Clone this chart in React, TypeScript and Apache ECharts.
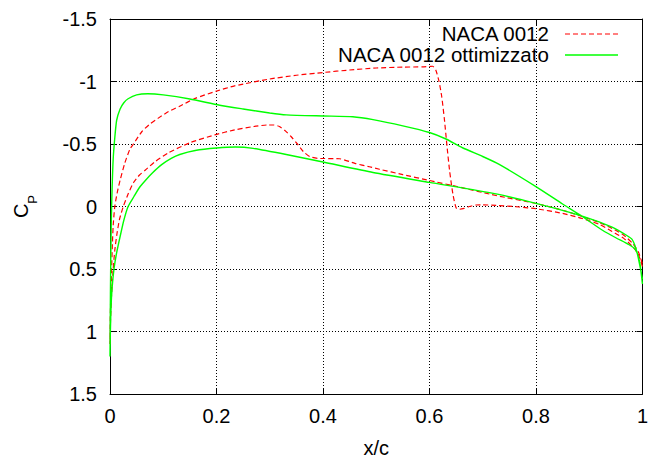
import { useEffect, useRef } from 'react';
import * as echarts from 'echarts';

// NACA 0012 — suction side (with the shock near x/c = 0.62)
const nacaUpperX = [0, 0.0005, 0.0015, 0.003, 0.0045, 0.006, 0.009, 0.014, 0.019, 0.028, 0.0375, 0.044, 0.06, 0.075, 0.09, 0.11, 0.13, 0.16, 0.2, 0.234, 0.3, 0.35, 0.4, 0.45, 0.5, 0.55, 0.587, 0.6, 0.606, 0.612, 0.618, 0.623, 0.628, 0.633, 0.638, 0.644, 0.65, 0.656, 0.665, 0.675, 0.687, 0.7, 0.725, 0.769, 0.8, 0.85, 0.887, 0.92, 0.943, 0.965, 0.981, 0.992, 1.0];
const nacaUpperCp = [1.1, 0.9, 0.7, 0.5, 0.3, 0.15, 0, -0.12, -0.21, -0.35, -0.46, -0.5, -0.6, -0.66, -0.705, -0.76, -0.8, -0.865, -0.923, -0.965, -1.02, -1.05, -1.072, -1.092, -1.108, -1.115, -1.117, -1.12, -1.122, -1.09, -1.0, -0.88, -0.7, -0.48, -0.28, -0.1, 0.01, 0.022, 0.015, 0.0, -0.012, -0.013, -0.009, 0.004, 0.018, 0.055, 0.096, 0.145, 0.2, 0.255, 0.319, 0.38, 0.48];

// NACA 0012 — second surface
const nacaLowerX = [0, 0.001, 0.003, 0.006, 0.009, 0.013, 0.018, 0.025, 0.034, 0.044, 0.055, 0.066, 0.085, 0.11, 0.15, 0.197, 0.234, 0.27, 0.295, 0.308, 0.318, 0.328, 0.34, 0.352, 0.363, 0.375, 0.39, 0.4, 0.431, 0.46, 0.487, 0.506, 0.55, 0.6, 0.644, 0.725, 0.8, 0.85, 0.887, 0.92, 0.943, 0.965, 0.981, 0.992, 1.0];
const nacaLowerCp = [1.1, 0.9, 0.7, 0.5, 0.35, 0.22, 0.1, 0, -0.1, -0.19, -0.25, -0.29, -0.36, -0.43, -0.51, -0.573, -0.613, -0.64, -0.652, -0.652, -0.64, -0.61, -0.56, -0.5, -0.44, -0.4, -0.385, -0.384, -0.382, -0.345, -0.318, -0.298, -0.255, -0.208, -0.167, -0.088, -0.024, 0.03, 0.08, 0.13, 0.175, 0.23, 0.293, 0.36, 0.46];

// Optimised profile — suction side
const optUpperX = [0, 0.0003, 0.0008, 0.0015, 0.0025, 0.004, 0.006, 0.009, 0.0125, 0.019, 0.026, 0.034, 0.05, 0.071, 0.1, 0.15, 0.206, 0.25, 0.3, 0.331, 0.4, 0.456, 0.494, 0.55, 0.6, 0.631, 0.662, 0.7, 0.731, 0.8, 0.85, 0.887, 0.925, 0.95, 0.975, 0.987, 0.995, 1.0];
const optUpperCp = [1.2, 1.0, 0.7, 0.4, 0.1, -0.15, -0.38, -0.55, -0.69, -0.78, -0.83, -0.862, -0.893, -0.902, -0.893, -0.86, -0.81, -0.78, -0.748, -0.733, -0.724, -0.718, -0.695, -0.645, -0.592, -0.54, -0.47, -0.4, -0.337, -0.159, -0.02, 0.08, 0.19, 0.25, 0.306, 0.345, 0.45, 0.62];

// Optimised profile — second surface
const optLowerX = [0, 0.0007, 0.002, 0.004, 0.0075, 0.012, 0.019, 0.026, 0.034, 0.045, 0.055, 0.066, 0.08, 0.097, 0.115, 0.131, 0.16, 0.2, 0.236, 0.269, 0.331, 0.4, 0.494, 0.6, 0.725, 0.8, 0.887, 0.943, 0.97, 0.981, 0.99, 1.0];
const optLowerCp = [1.2, 1.0, 0.8, 0.65, 0.5, 0.38, 0.24, 0.11, 0.0, -0.08, -0.15, -0.206, -0.27, -0.335, -0.385, -0.416, -0.448, -0.468, -0.476, -0.465, -0.416, -0.356, -0.272, -0.193, -0.101, -0.025, 0.077, 0.165, 0.23, 0.266, 0.37, 0.58];

const seriesNames = ['NACA 0012', 'NACA 0012 ottimizzato'];
const seriesColors = ['#ff0000', '#00ff00'];

// Closed Cp loop: first surface from trailing edge to leading edge, then back along the second one
function loop(ux: number[], uy: number[], lx: number[], ly: number[]) {
  const a = ux.map((x, i) => [x, uy[i]]).reverse();
  const b = lx.map((x, i) => [x, ly[i]]).slice(1);
  return [...a, ...b];
}

const FONT = 'Liberation Sans, Arial, Helvetica, sans-serif';
const DASH = [5, 3];

export default function App() {
  const ref = useRef<HTMLDivElement>(null);

  useEffect(() => {
    const chart = echarts.init(ref.current!, null, { renderer: 'svg' });
    const axisLine = { show: true, onZero: false, lineStyle: { color: '#000', width: 1 } };
    const tick = { show: true, inside: true, length: 6, lineStyle: { color: '#000', width: 1 } };
    const grid = { show: true, lineStyle: { color: '#000', width: 1, type: [1, 2] } };
    const label = { color: '#000', fontSize: 20, fontFamily: FONT };

    // Key in the top-right corner: right-aligned text followed by a line sample
    const key = seriesNames.flatMap((name, i) => {
      const y = 34 + i * 21;
      return [
        {
          type: 'text',
          right: 101,
          top: y - 11,
          style: { text: name, fill: '#000', fontSize: 20.5, fontFamily: FONT, textVerticalAlign: 'top' },
        },
        {
          type: 'line',
          shape: { x1: 565, y1: y, x2: 618, y2: y },
          style: { stroke: seriesColors[i], lineWidth: i === 0 ? 1.2 : 1.4, lineDash: i === 0 ? DASH : null },
        },
      ];
    });

    chart.setOption({
      animation: false,
      backgroundColor: '#fff',
      textStyle: { fontFamily: FONT },
      grid: { left: 110, right: 7, top: 19, bottom: 64, containLabel: false },
      graphic: key,
      xAxis: [
        {
          type: 'value', min: 0, max: 1, interval: 0.2, position: 'bottom',
          axisLine, axisTick: tick, splitLine: grid,
          axisLabel: { ...label, margin: 12 },
          name: 'x/c', nameLocation: 'middle', nameGap: 44,
          nameTextStyle: { ...label },
        },
        {
          type: 'value', min: 0, max: 1, interval: 0.2, position: 'top',
          axisLine, axisTick: tick, splitLine: { show: false }, axisLabel: { show: false },
        },
      ],
      yAxis: [
        {
          type: 'value', min: -1.5, max: 1.5, interval: 0.5, inverse: true, position: 'left',
          axisLine, axisTick: tick, splitLine: grid,
          axisLabel: { ...label, margin: 13 },
          name: '{c|C}{p|P}', nameLocation: 'middle', nameGap: 77,
          nameTextStyle: {
            rich: {
              c: { fontSize: 20, fontFamily: FONT, color: '#000', lineHeight: 24 },
              p: { fontSize: 13, fontFamily: FONT, color: '#000', lineHeight: 24, verticalAlign: 'bottom', padding: [0, 0, -6, 0] },
            },
          },
        },
        {
          type: 'value', min: -1.5, max: 1.5, interval: 0.5, inverse: true, position: 'right',
          axisLine, axisTick: tick, splitLine: { show: false }, axisLabel: { show: false },
        },
      ],
      series: [
        {
          name: seriesNames[0], type: 'line', showSymbol: false, symbol: 'none', smooth: 0.2,
          data: loop(nacaUpperX, nacaUpperCp, nacaLowerX, nacaLowerCp),
          lineStyle: { color: seriesColors[0], width: 1.2, type: DASH },
          itemStyle: { color: seriesColors[0] },
        },
        {
          name: seriesNames[1], type: 'line', showSymbol: false, symbol: 'none', smooth: 0.2,
          data: loop(optUpperX, optUpperCp, optLowerX, optLowerCp),
          lineStyle: { color: seriesColors[1], width: 1.4 },
          itemStyle: { color: seriesColors[1] },
        },
      ],
    });
    return () => chart.dispose();
  }, []);

  return (
    <div
      ref={ref}
      style={{ position: 'fixed', left: 0, top: 0, width: 651, height: 463, background: '#fff' }}
    />
  );
}
